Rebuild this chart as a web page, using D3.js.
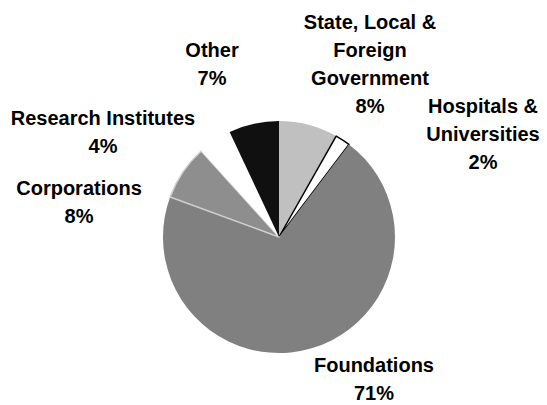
<!DOCTYPE html>
<html>
<head>
<meta charset="utf-8">
<script src="https://cdn.jsdelivr.net/npm/d3@7"></script>
<style>
  body { margin: 0; background: #fff; }
  text { font-family: "Liberation Sans", Arial, sans-serif; font-weight: bold; font-size: 20px; fill: #000; }
</style>
</head>
<body>
<script>
// slices, clockwise from 12 o'clock (shares)
var categories = ["State, Local & Foreign Government", "Hospitals & Universities", "Foundations", "Corporations", "Research Institutes", "Other"];
var shares = [8.2, 2.1, 70.3, 7.7, 4.7, 7.0];
var fills = ["#c0c0c0", "#ffffff", "#808080", "#8e8e8e", "#ffffff", "#101010"];
var strokes = ["none", "#000", "none", "#d0d0d0", "none", "none"];

// label lines and anchor point (centre x, first baseline)
var labelLines = [
  ["State, Local &", "Foreign", "Government", "8%"],
  ["Hospitals &", "Universities", "2%"],
  ["Foundations", "71%"],
  ["Corporations", "8%"],
  ["Research Institutes", "4%"],
  ["Other", "7%"]
];
var labelPos = [[370, 29], [483, 113], [374, 372], [79, 195], [103, 125], [212, 57]];

var width = 547,
    height = 405,
    radius = 116,
    cx = 279,
    cy = 237,
    lineH = 28;

var svg = d3.select("body")
    .append("svg")
    .attr("width", width)
    .attr("height", height);

var pie = d3.pie().sort(null).value(function(d){ return d; });
var arc = d3.arc().innerRadius(0).outerRadius(radius);

var g = svg.append("g").attr("transform", "translate(" + cx + "," + cy + ")");

g.selectAll(".slice")
    .data(pie(shares))
    .enter()
    .append("path")
    .attr("class", "slice")
    .attr("d", arc)
    .attr("fill", function(d, i){ return fills[i]; })
    .attr("stroke", function(d, i){ return strokes[i]; })
    .attr("stroke-width", 1.5)
    .attr("stroke-linejoin", "round");

var labels = svg.selectAll(".label")
    .data(categories)
    .enter()
    .append("text")
    .attr("class", "label")
    .attr("text-anchor", "middle");

labels.each(function(d, i){
    var t = d3.select(this);
    labelLines[i].forEach(function(line, j){
        t.append("tspan")
            .attr("x", labelPos[i][0])
            .attr("y", labelPos[i][1] + j * lineH)
            .text(line);
    });
});
</script>
</body>
</html>
